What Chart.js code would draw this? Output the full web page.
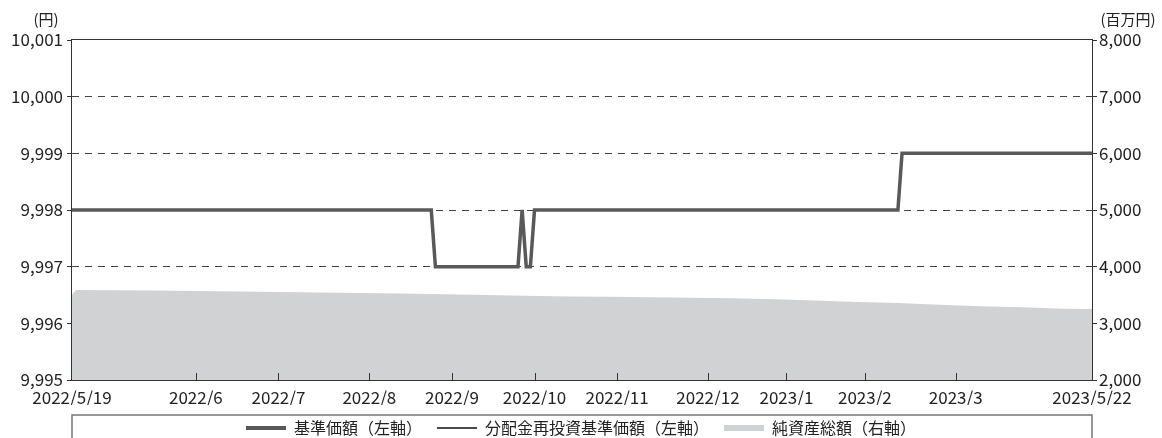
<!DOCTYPE html>
<html><head><meta charset="utf-8">
<script src="https://cdn.jsdelivr.net/npm/chart.js@4.4.1/dist/chart.umd.min.js"></script>
<style>html,body{margin:0;padding:0;background:#fff;}#wrap{width:1162px;height:438px;}</style>
</head><body><div id="wrap"><canvas id="c" width="1162" height="438"></canvas></div>
<script>
// ---- data ----
const seriesNames = ['基準価額（左軸）', '分配金再投資基準価額（左軸）', '純資産総額（右軸）'];
const leftUnit = '(円)';
const rightUnit = '(百万円)';
// x = business-day index from 2022/5/19 (0) to 2023/5/22 (247)
const xTickIdx = [0, 30, 50, 72, 92, 112, 132, 154, 173, 192, 214, 247];
const xTickLabels = ['2022/5/19', '2022/6', '2022/7', '2022/8', '2022/9', '2022/10', '2022/11', '2022/12', '2023/1', '2023/2', '2023/3', '2023/5/22'];
const leftTicks = [9995, 9996, 9997, 9998, 9999, 10000, 10001];
const rightTicks = [2000, 3000, 4000, 5000, 6000, 7000, 8000];
const priceIdx = [0, 87, 88, 108, 109, 110, 111, 112, 200, 201, 247];
const basePrice = [9998, 9998, 9997, 9997, 9998, 9997, 9997, 9998, 9998, 9999, 9999];
const reinvestPrice = [9998, 9998, 9997, 9997, 9998, 9997, 9997, 9998, 9998, 9999, 9999];
const assetIdx = [0, 1, 10, 20, 30, 40, 50, 60, 70, 80, 90, 100, 110, 120, 130, 140, 150, 160, 170, 180, 190, 200, 210, 220, 230, 240, 247];
const netAssets = [3510, 3590, 3586, 3578, 3570, 3560, 3552, 3545, 3536, 3528, 3512, 3500, 3488, 3475, 3470, 3462, 3452, 3442, 3425, 3402, 3378, 3360, 3330, 3300, 3282, 3258, 3253];

// ---- chart ----
const FONT = "'Noto Sans CJK JP','Noto Sans',sans-serif";
Chart.defaults.font.family = FONT;
Chart.defaults.color = '#222';
const toXY = (xs, ys) => xs.map((x, i) => ({x: x, y: ys[i]}));
const COL_BASE = '#595959', COL_REINV = '#111111', COL_AREA = '#d1d2d4';

const decor = {
  id: 'decor',
  afterDatasetsDraw(chart) {
    const {ctx, chartArea: a, scales: {x}} = chart;
    ctx.save();
    ctx.strokeStyle = '#333';
    ctx.lineWidth = 1;
    ctx.strokeRect(Math.round(a.left) - 0.5, Math.round(a.top) - 0.5, Math.round(a.right - a.left) + 1, Math.round(a.bottom - a.top) + 1);
    ctx.beginPath();
    xTickIdx.slice(1, -1).forEach(v => {
      const px = Math.round(x.getPixelForValue(v)) + 0.5;
      ctx.moveTo(px, a.bottom);
      ctx.lineTo(px, a.bottom - 7);
    });
    ctx.stroke();
    ctx.restore();
  },
  afterDraw(chart) {
    const {ctx, chartArea: a} = chart;
    ctx.save();
    ctx.fillStyle = '#222';
    ctx.font = '15px ' + FONT;
    ctx.textBaseline = 'middle';
    ctx.textAlign = 'center';
    ctx.fillText(leftUnit, a.left - 26, 19);
    ctx.fillText(rightUnit, a.right + 36, 19);
    ctx.strokeStyle = '#777';
    ctx.lineWidth = 1.5;
    ctx.strokeRect(a.left, a.bottom + 35, a.right - a.left, 40);
    ctx.restore();
  }
};

new Chart(document.getElementById('c'), {
  type: 'line',
  data: {
    datasets: [
      {label: seriesNames[0], data: toXY(priceIdx, basePrice), borderColor: COL_BASE, borderWidth: 3.5, pointRadius: 0, yAxisID: 'y', fill: false, tension: 0},
      {label: seriesNames[1], data: toXY(priceIdx, reinvestPrice), borderColor: COL_REINV, borderWidth: 1.2, pointRadius: 0, yAxisID: 'y', fill: false, tension: 0},
      {label: seriesNames[2], data: toXY(assetIdx, netAssets), borderColor: 'rgba(0,0,0,0)', borderWidth: 0, backgroundColor: COL_AREA, fill: 'start', pointRadius: 0, yAxisID: 'y1', tension: 0}
    ]
  },
  options: {
    responsive: false, animation: false, devicePixelRatio: 1,
    layout: {padding: {top: 40, bottom: -8, left: 0, right: 0}},
    plugins: {
      tooltip: {enabled: false},
      legend: {
        position: 'bottom',
        labels: {
          usePointStyle: true, pointStyleWidth: 40, boxHeight: 6, padding: 15,
          font: {size: 16}, color: '#222',
          generateLabels(chart) {
            const st = [
              {pointStyle: 'line', strokeStyle: COL_BASE, fillStyle: COL_BASE, lineWidth: 4},
              {pointStyle: 'line', strokeStyle: COL_REINV, fillStyle: COL_REINV, lineWidth: 1.5},
              {pointStyle: 'rect', strokeStyle: COL_AREA, fillStyle: COL_AREA, lineWidth: 0}
            ];
            return chart.data.datasets.map((d, i) => Object.assign({text: d.label, datasetIndex: i, hidden: false, fontColor: '#222'}, st[i]));
          }
        }
      }
    },
    scales: {
      x: {
        type: 'linear', min: 0, max: 247,
        afterBuildTicks: s => { s.ticks = xTickIdx.map(v => ({value: v})); },
        ticks: {autoSkip: false, maxRotation: 0, minRotation: 0, padding: 7, font: {size: 17}, color: '#222',
          callback: v => { const i = xTickIdx.indexOf(v); return i >= 0 ? xTickLabels[i] : ''; }},
        grid: {display: false, drawTicks: false},
        border: {display: false},
        afterFit: s => { s.height = 25; }
      },
      y: {
        position: 'left', min: 9995, max: 10001,
        afterBuildTicks: s => { s.ticks = leftTicks.map(v => ({value: v})); },
        ticks: {font: {size: 17}, color: '#222', padding: 4, callback: v => v.toLocaleString('en-US')},
        grid: {
          color: c => (c.tick && (c.tick.value === 9995 || c.tick.value === 10001)) ? 'rgba(0,0,0,0)' : '#444',
          lineWidth: 1, drawTicks: true, tickLength: 5, tickColor: '#333'
        },
        border: {display: false, dash: [7, 6]},
        afterFit: s => { s.width = 72; }
      },
      y1: {
        position: 'right', min: 2000, max: 8000,
        afterBuildTicks: s => { s.ticks = rightTicks.map(v => ({value: v})); },
        ticks: {font: {size: 17}, color: '#222', padding: 2, callback: v => v.toLocaleString('en-US')},
        grid: {drawOnChartArea: false, drawTicks: true, tickLength: 5, tickColor: '#333'},
        border: {display: false},
        afterFit: s => { s.width = 70; }
      }
    }
  },
  plugins: [decor]
});
</script>
</body></html>
